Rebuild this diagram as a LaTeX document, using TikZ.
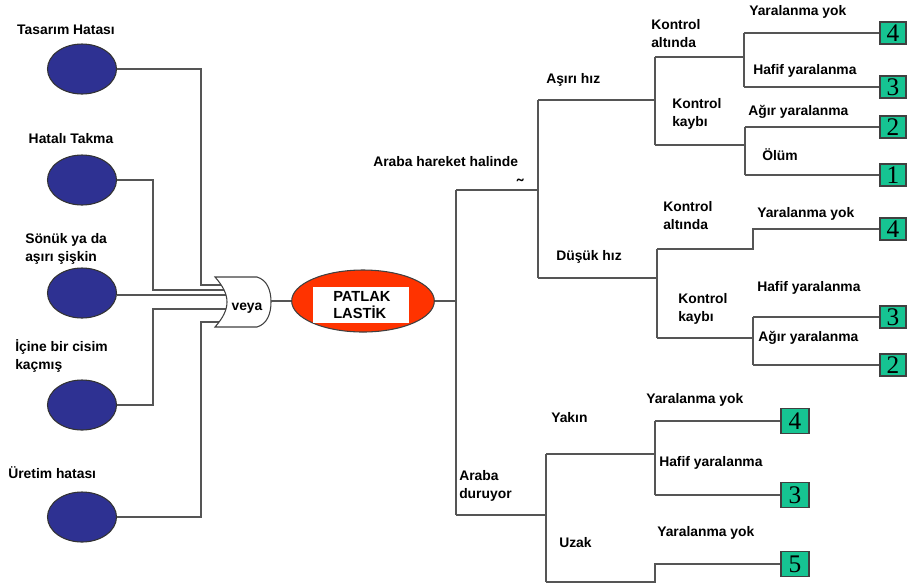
\documentclass[tikz,border=0pt]{standalone}
\usepackage{fontspec}
\setmainfont{Liberation Sans}
\newfontfamily\digitfont{Liberation Serif}
\usetikzlibrary{shapes.geometric}
\definecolor{causeblue}{RGB}{46,49,146}
\definecolor{eventred}{RGB}{255,51,0}
\definecolor{scoregreen}{RGB}{22,196,146}
\definecolor{wire}{RGB}{85,85,85}
\tikzset{
  lbl/.style={font=\fontsize{10.4}{13.5}\selectfont\bfseries, inner sep=0pt, align=left, anchor=west, text=black},
  cause/.style={ellipse, draw=black!80, line width=0.8pt, fill=causeblue, minimum width=51.75pt, minimum height=37.5pt, inner sep=0pt},
  conn/.style={draw=wire, line width=1.3pt},
  score/.style={draw=black!75, line width=0.8pt, fill=scoregreen, minimum width=19.5pt, minimum height=16.5pt, inner sep=0pt, font=\digitfont\fontsize{19}{19}\selectfont},
  scorelow/.style={score, minimum width=21pt, minimum height=18.5pt}
}
\begin{document}
\begin{tikzpicture}[x=0.75pt, y=-0.75pt]
\useasboundingbox (0,0) rectangle (910,587);

% basic events
\node[cause] (c1) at (82,69) {};
\node[cause] (c2) at (82,180) {};
\node[cause] (c3) at (82,293) {};
\node[cause] (c4) at (82,405) {};
\node[cause] (c5) at (82,517) {};

\node[lbl, anchor=center] at (66,30) {Tasarım Hatası};
\node[lbl, anchor=center] at (71,139) {Hatalı Takma};
\node[lbl] at (25,248.5) {Sönük ya da\\aşırı şişkin};
\node[lbl] at (15,356) {İçine bir cisim\\kaçmış};
\node[lbl] at (8,473) {Üretim hatası};

% inputs of the OR gate
\coordinate (g1) at (226,285);
\coordinate (g2) at (226,290);
\coordinate (g3) at (226,295);
\coordinate (g4) at (226,309);
\coordinate (g5) at (226,322);
\draw[conn] (c1.east) -- (201,69) |- (g1);
\draw[conn] (c2.east) -- (153,180) |- (g2);
\draw[conn] (c3.east) ++(0,2) -- (g3);
\draw[conn] (c4.east) -- (153,405) |- (g4);
\draw[conn] (c5.east) -- (201,517) |- (g5);

% OR gate
\draw[fill=white, draw=black!75, line width=0.8pt]
  (215,277) -- (257,277)
  .. controls (267,280) and (271,290) .. (271,302)
  .. controls (271,314) and (267,324) .. (257,327)
  -- (215,327)
  .. controls (223,318) and (227,310) .. (227,302)
  .. controls (227,294) and (223,286) .. (215,277) -- cycle;
\node[lbl, anchor=center] (gate) at (247,308) {veya};
\coordinate (gout) at (271,301);

% top event
\node[ellipse, draw=black!75, line width=0.8pt, fill=eventred, minimum width=107pt, minimum height=46.5pt, inner sep=0pt] (top) at (363,301) {};
\node[fill=white, minimum width=72pt, minimum height=27pt, inner sep=0pt] (topbox) at (361,305) {};
\node[lbl, font=\fontsize{11}{12.5}\selectfont\bfseries] at (333,305) {PATLAK\\LASTİK};
\draw[conn] (gout) -- (top.west);

% event tree junctions
\coordinate (trunk) at (456,301);
\coordinate (moving) at (456,190);
\coordinate (stopped) at (456,515);
\coordinate (speed) at (538,190);
\coordinate (hi) at (538,100);
\coordinate (lo) at (538,278);
\coordinate (hiC) at (655,100);
\coordinate (hiCa) at (655,57);
\coordinate (hiCb) at (655,145);
\coordinate (hiA) at (744,57);
\coordinate (hiB) at (745,145);
\coordinate (loC) at (657,278);
\coordinate (loCa) at (657,249);
\coordinate (loCb) at (657,338);
\coordinate (loA) at (753,249);
\coordinate (loB) at (753,338);
\coordinate (near) at (546,454);
\coordinate (far) at (546,582);
\coordinate (nearC) at (655,454);
\coordinate (farC) at (655,582);

% outcome scores
\node[score] (s1) at (893,33) {4};
\node[score] (s2) at (893,87) {3};
\node[score] (s3) at (893,127) {2};
\node[score] (s4) at (893,175) {1};
\node[score] (s5) at (893,229) {4};
\node[score] (s6) at (893,317) {3};
\node[score] (s7) at (893,365) {2};
\node[scorelow] (s8) at (795,421) {4};
\node[scorelow] (s9) at (795,495) {3};
\node[scorelow] (s10) at (795,564) {5};

% branches
\draw[conn] (top.east) -- (trunk);
\draw[conn] (moving) -- (stopped);
\draw[conn] (moving) -- (speed);
\draw[conn] (hi) -- (lo);
\draw[conn] (hi) -- (hiC);
\draw[conn] (hiCa) -- (hiCb);
\draw[conn] (hiCa) -- (hiA);
\draw[conn] (hiCb) -- (hiB);
\draw[conn] (744,33) -- (744,87);
\draw[conn] (744,33) -- (s1.west);
\draw[conn] (744,87) -- (s2.west);
\draw[conn] (745,127) -- (745,175);
\draw[conn] (745,127) -- (s3.west);
\draw[conn] (745,175) -- (s4.west);

\draw[conn] (lo) -- (loC);
\draw[conn] (loCa) -- (loCb);
\draw[conn] (loCa) -- (loA) |- (s5.west);
\draw[conn] (loCb) -- (loB);
\draw[conn] (753,317) -- (753,365);
\draw[conn] (753,317) -- (s6.west);
\draw[conn] (753,365) -- (s7.west);

\draw[conn] (stopped) -- (546,515);
\draw[conn] (near) -- (far);
\draw[conn] (near) -- (nearC);
\draw[conn] (655,421) -- (655,495);
\draw[conn] (655,421) -- (s8.west);
\draw[conn] (655,495) -- (s9.west);
\draw[conn] (far) -- (farC) |- (s10.west);

% branch labels
\node[lbl] at (373,162) {Araba hareket halinde};
\node[lbl, anchor=center, font=\fontsize{14}{14}\selectfont\bfseries] at (520,186) {˜};
\node[lbl] at (546,80) {Aşırı hız};
\node[lbl] at (651,34) {Kontrol\\altında};
\node[lbl] at (749,12) {Yaralanma yok};
\node[lbl] at (753,71) {Hafif yaralanma};
\node[lbl] at (672,114) {Kontrol\\kaybı};
\node[lbl] at (748,112) {Ağır yaralanma};
\node[lbl] at (762,155) {Ölüm};

\node[lbl] at (663,216) {Kontrol\\altında};
\node[lbl] at (757,214) {Yaralanma yok};
\node[lbl] at (556,257) {Düşük hız};
\node[lbl] at (678,309) {Kontrol\\kaybı};
\node[lbl] at (757,288) {Hafif yaralanma};
\node[lbl] at (758,338) {Ağır yaralanma};

\node[lbl] at (551,418) {Yakın};
\node[lbl] at (646,400) {Yaralanma yok};
\node[lbl] at (659,463) {Hafif yaralanma};
\node[lbl] at (459,486) {Araba\\duruyor};
\node[lbl] at (559,543) {Uzak};
\node[lbl] at (657,533) {Yaralanma yok};
\end{tikzpicture}
\end{document}
